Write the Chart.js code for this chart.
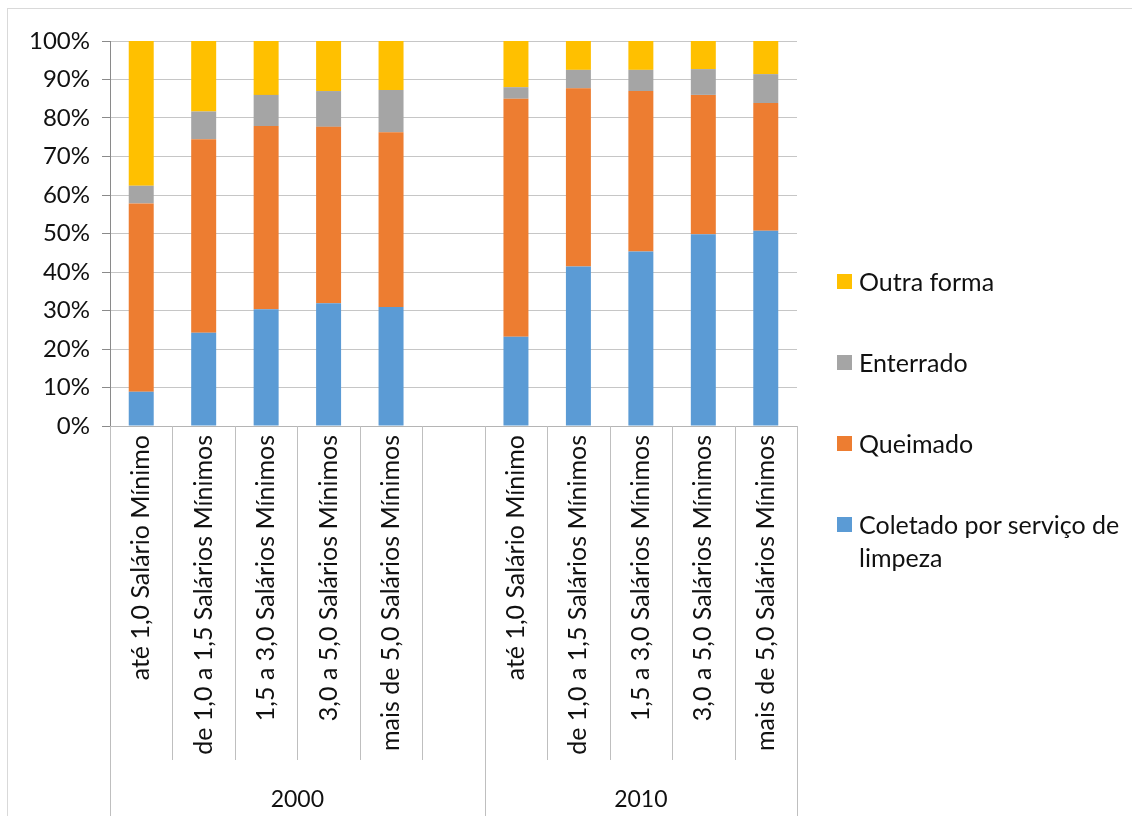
<!DOCTYPE html>
<html>
<head>
<meta charset="utf-8">
<script src="https://cdn.jsdelivr.net/npm/chart.js@4.4.1/dist/chart.umd.min.js"></script>
<style>
  html, body { margin: 0; padding: 0; background: #fff; }
  #wrap { position: relative; width: 1132px; height: 816px; overflow: hidden; }
  #frame { position: absolute; left: 7px; top: 8px; width: 1140px; height: 830px;
           border: 1px solid #d9d9d9; box-sizing: border-box; }
  #chart { position: absolute; left: 0; top: 0; }
  #legend { position: absolute; left: 837px; top: 0; font-family: Lato, sans-serif;
            font-size: 25px; color: #111; line-height: 33px; }
  .item { position: absolute; left: 0; width: 290px; }
  .swatch { position: absolute; left: 0; top: 9px; width: 15px; height: 15px; }
  .text { margin-left: 22px; }
</style>
</head>
<body>
<div id="wrap">
  <div id="frame"></div>
  <canvas id="chart" width="1132" height="816"></canvas>
  <div id="legend"></div>
</div>
<script>
// income brackets, an empty slot separates the two census years
const categories = [
  'até 1,0 Salário Mínimo', 'de 1,0 a 1,5 Salários Mínimos', '1,5 a 3,0 Salários Mínimos',
  '3,0 a 5,0 Salários Mínimos', 'mais de 5,0 Salários Mínimos', '',
  'até 1,0 Salário Mínimo', 'de 1,0 a 1,5 Salários Mínimos', '1,5 a 3,0 Salários Mínimos',
  '3,0 a 5,0 Salários Mínimos', 'mais de 5,0 Salários Mínimos'
]
const years = ['2000', '2010']
const yearFirst = [0, 6]
const yearLast = [5, 10]

const seriesNames = ['Coletado por serviço de limpeza', 'Queimado', 'Enterrado', 'Outra forma']
const seriesColors = ['#5b9bd5', '#ed7d31', '#a5a5a5', '#ffc000']

const coletado = [8.9, 24.2, 30.3, 31.9, 30.9, null, 23.2, 41.4, 45.3, 49.8, 50.7]
const queimado = [48.9, 50.3, 47.6, 45.8, 45.4, null, 61.8, 46.3, 41.7, 36.2, 33.2]
const enterrado = [4.6, 7.2, 8.1, 9.3, 11.0, null, 3.0, 4.8, 5.5, 6.7, 7.5]
const outra = [37.6, 18.3, 14.0, 13.0, 12.7, null, 12.0, 7.5, 7.5, 7.3, 8.6]

const yTicks = [0, 10, 20, 30, 40, 50, 60, 70, 80, 90, 100]

const textColor = '#111'
const catFont = { family: 'Lato', size: 25 }
const valFont = { family: 'Lato', size: 24 }
const yearFont = { family: 'Lato', size: 23 }

// separators and year labels below the category labels
const yearAxis = {
    id: 'yearAxis',
    afterDraw(chart){
        const ctx = chart.ctx
        const area = chart.chartArea
        const x = chart.scales.x
        const slot = x.getPixelForTick(1) - x.getPixelForTick(0)
        const edge = (i) => x.getPixelForTick(0) - slot / 2 + i * slot
        const groupEdges = [0, categories.length]
        yearFirst.forEach((f) => groupEdges.push(f))

        ctx.save()
        ctx.strokeStyle = '#bfbfbf'
        ctx.lineWidth = 1
        for (let i = 0; i <= categories.length; i++) {
            const px = Math.round(edge(i)) + 0.5
            const bottom = groupEdges.includes(i) ? chart.height : area.bottom + 334
            ctx.beginPath()
            ctx.moveTo(px, area.bottom)
            ctx.lineTo(px, bottom)
            ctx.stroke()
        }

        ctx.fillStyle = textColor
        ctx.font = yearFont.size + 'px ' + yearFont.family
        ctx.textAlign = 'center'
        ctx.textBaseline = 'middle'
        years.forEach((year, g) => {
            const center = (edge(yearFirst[g]) + edge(yearLast[g] + 1)) / 2
            ctx.fillText(year, center, area.bottom + 374)
        })
        ctx.restore()
    }
}

const datasets = [coletado, queimado, enterrado, outra].map((values, i) => ({
    label: seriesNames[i],
    data: values,
    backgroundColor: seriesColors[i],
    borderWidth: 0,
    barPercentage: 0.4,
    categoryPercentage: 1.0
}))

new Chart(document.getElementById('chart'), {
    type: 'bar',
    data: { labels: categories, datasets: datasets },
    options: {
        responsive: false,
        animation: false,
        layout: { padding: { top: 41, right: 335, left: 0, bottom: 0 } },
        plugins: { legend: { display: false }, tooltip: { enabled: false } },
        scales: {
            x: {
                stacked: true,
                grid: { drawOnChartArea: false, drawTicks: false },
                border: { color: '#b5b5b5' },
                ticks: {
                    autoSkip: false, minRotation: 90, maxRotation: 90,
                    padding: 9, font: catFont, color: textColor
                },
                afterFit: (s) => { s.height = 390 }
            },
            y: {
                stacked: true,
                min: 0,
                max: 100,
                afterBuildTicks: (s) => { s.ticks = yTicks.map((v) => ({ value: v })) },
                grid: { color: '#c6c6c6', tickColor: '#8a8a8a', tickLength: 8 },
                border: { color: '#8a8a8a' },
                ticks: {
                    padding: 12, font: valFont, color: textColor,
                    callback: (v) => v + '%'
                },
                afterFit: (s) => { s.width = 110 }
            }
        }
    },
    plugins: [yearAxis]
})

// legend on the right, last series first
const legend = document.getElementById('legend')
const legendTops = [265, 346, 427, 508]
seriesNames.slice().reverse().forEach((name, i) => {
    const idx = seriesNames.length - 1 - i
    const item = document.createElement('div')
    item.className = 'item'
    item.style.top = legendTops[i] + 'px'
    item.innerHTML = '<span class="swatch" style="background:' + seriesColors[idx] + '"></span>' +
        '<div class="text">' + name + '</div>'
    legend.appendChild(item)
})
</script>
</body>
</html>
